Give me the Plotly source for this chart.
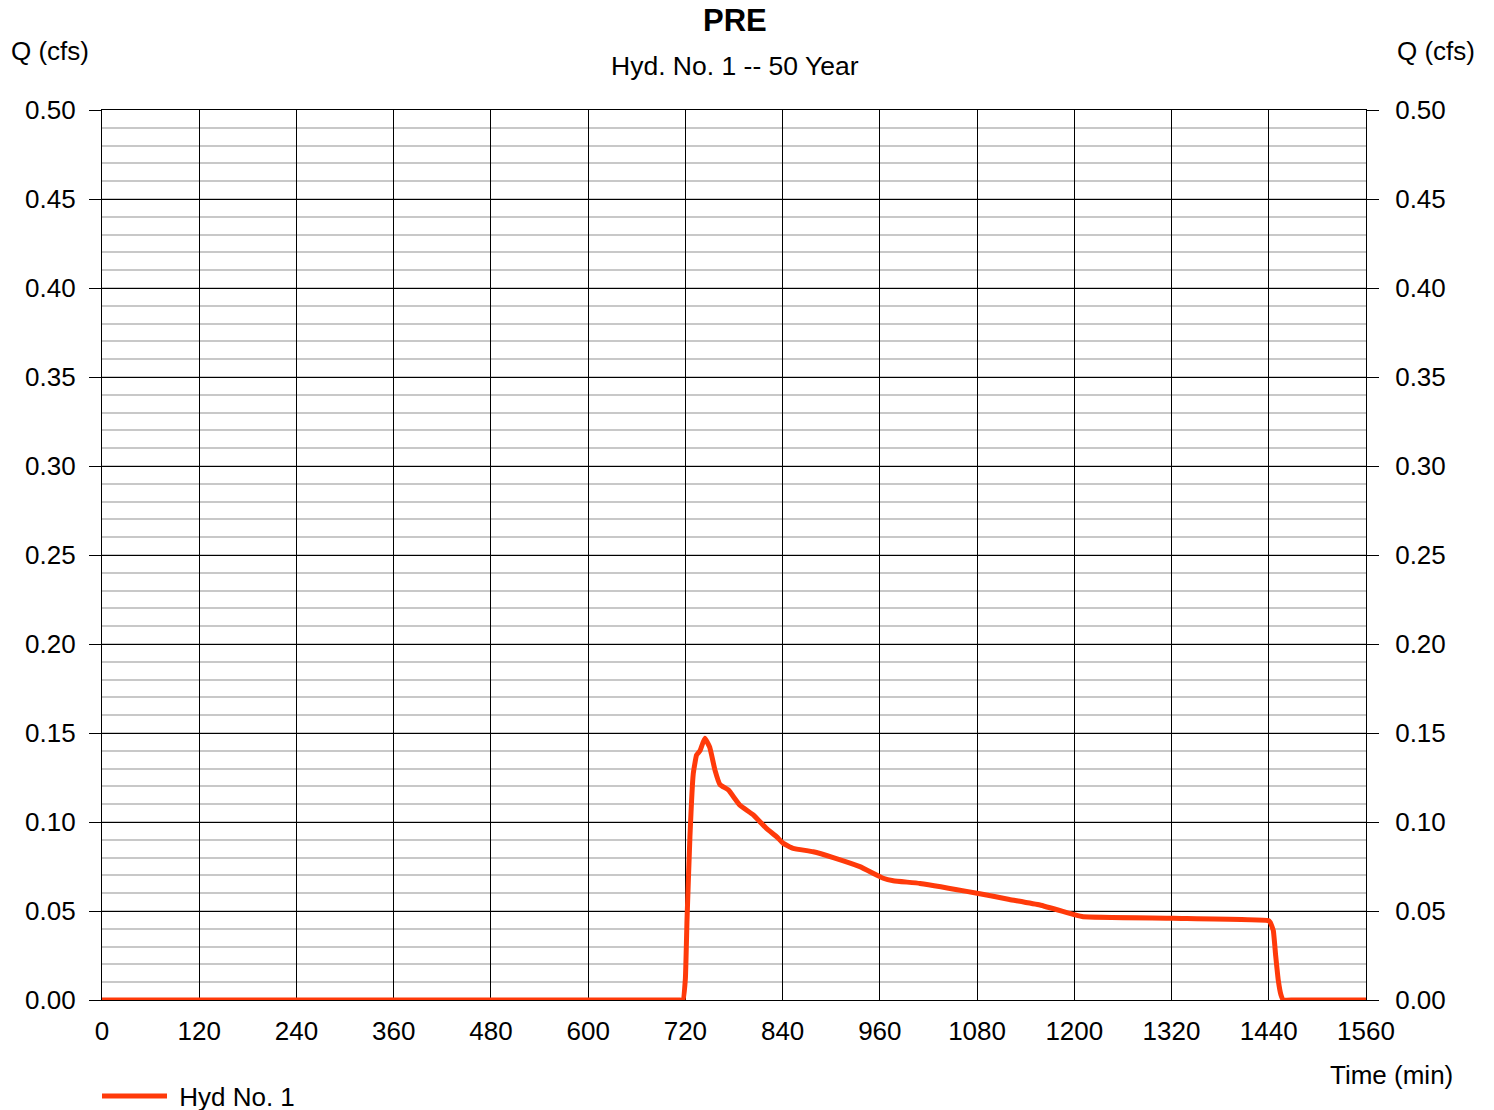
import plotly.graph_objects as go

# Hydrograph data (time in minutes, flow in cfs)
time_min = [0, 300, 600, 660, 690, 705, 712, 717, 720, 722, 725.6, 729.7, 733.8, 738, 744, 750,
            756.6, 762.7, 773, 787, 803.8, 820, 832.5, 840.8, 853, 877.8, 902.5, 935.4, 964.2,
            976.6, 1009.5, 1080, 1120, 1157.6, 1201, 1211, 1322, 1439.5, 1442, 1445.6, 1448.5,
            1451.7, 1455, 1458, 1470, 1490, 1520, 1560]
flow_cfs = [0, 0, 0, 0, 0, 0, 0, 0, 0.012, 0.045, 0.0916, 0.127, 0.1376, 0.140, 0.147, 0.142,
            0.129, 0.121, 0.118, 0.1096, 0.104, 0.0964, 0.0918, 0.088, 0.0852, 0.0833, 0.080,
            0.0749, 0.0684, 0.067, 0.0655, 0.0600, 0.0565, 0.0534, 0.0478, 0.0468, 0.0459,
            0.0446, 0.0435, 0.039, 0.025, 0.0112, 0.003, 0, 0, 0, 0, 0]

x_ticks = [0, 120, 240, 360, 480, 600, 720, 840, 960, 1080, 1200, 1320, 1440, 1560]
y_ticks = [0.00, 0.05, 0.10, 0.15, 0.20, 0.25, 0.30, 0.35, 0.40, 0.45, 0.50]

FONT = "Liberation Sans, Arial, sans-serif"
OFF = 8  # default page body margin
W, H = 1494 - OFF, 1110 - OFF
L, T = 102 - OFF, 110 - OFF
R = W - (1366 - OFF)
B = H - (1000 - OFF)
PW, PH = W - L - R, H - T - B

def px_x(x):
    return (x - OFF - L) / PW

def px_y(y):
    return (H - B - (y - OFF)) / PH

fig = go.Figure()
fig.add_trace(go.Scatter(x=time_min, y=flow_cfs, mode="lines", name="\u00a0Hyd No. 1",
                         line=dict(color="#ff3a0a", width=5, shape="spline", smoothing=0.35),
                         cliponaxis=True))
fig.add_trace(go.Scatter(x=[0, 1560], y=[0, 0], yaxis="y2", mode="lines",
                         line=dict(color="rgba(0,0,0,0)"), showlegend=False, hoverinfo="skip"))

yax = dict(range=[0, 0.5], tickvals=y_ticks, ticktext=[f"{v:.2f}" for v in y_ticks],
           gridcolor="black", gridwidth=1.2, zeroline=False,
           ticks="outside", ticklen=12, tickcolor="black", tickwidth=1.2,
           tickfont=dict(family=FONT, size=26, color="black"),
           fixedrange=True)

fig.update_layout(
    width=W, height=H,
    margin=dict(l=L, r=R, t=T, b=B, autoexpand=False),
    paper_bgcolor="white", plot_bgcolor="white",
    font=dict(family=FONT, color="black"),
    xaxis=dict(range=[0, 1560], tickvals=x_ticks, showgrid=True, gridcolor="black",
               gridwidth=1.2, zeroline=False, ticks="", ticklabelstandoff=8,
               tickfont=dict(family=FONT, size=26, color="black"),
               showline=True, mirror=True, linecolor="black", linewidth=1.2),
    yaxis=dict(**yax, side="left", showgrid=True, ticklabelstandoff=8,
               minor=dict(dtick=0.01, tick0=0, showgrid=True, gridcolor="#c8c8c8", gridwidth=2.2),
               showline=True, mirror=True, linecolor="black", linewidth=1.2),
    yaxis2=dict(**yax, showgrid=False, overlaying="y", side="right", ticklabelstandoff=11,
                showline=False),
    showlegend=True,
    legend=dict(orientation="h", x=-5 / PW, xanchor="left", y=px_y(1096), yanchor="middle",
                font=dict(family=FONT, size=26, color="black"), itemwidth=65,
                bgcolor="rgba(0,0,0,0)"),
    annotations=[
        dict(text="<b>PRE</b>", x=px_x(735), y=px_y(21), xref="paper", yref="paper",
             xanchor="center", yanchor="middle", showarrow=False, font=dict(size=31, family=FONT)),
        dict(text="Hyd. No. 1 -- 50 Year", x=px_x(735), y=px_y(66), xref="paper", yref="paper",
             xanchor="center", yanchor="middle", showarrow=False, font=dict(size=26.5, family=FONT)),
        dict(text="Q (cfs)", x=px_x(50), y=px_y(51), xref="paper", yref="paper",
             xanchor="center", yanchor="middle", showarrow=False, font=dict(size=26, family=FONT)),
        dict(text="Q (cfs)", x=px_x(1436), y=px_y(51), xref="paper", yref="paper",
             xanchor="center", yanchor="middle", showarrow=False, font=dict(size=26, family=FONT)),
        dict(text="Time (min)", x=px_x(1455), y=px_y(1075), xref="paper", yref="paper",
             xanchor="right", yanchor="middle", showarrow=False, font=dict(size=26, family=FONT)),
    ],
)

fig.write_html("out.html")
